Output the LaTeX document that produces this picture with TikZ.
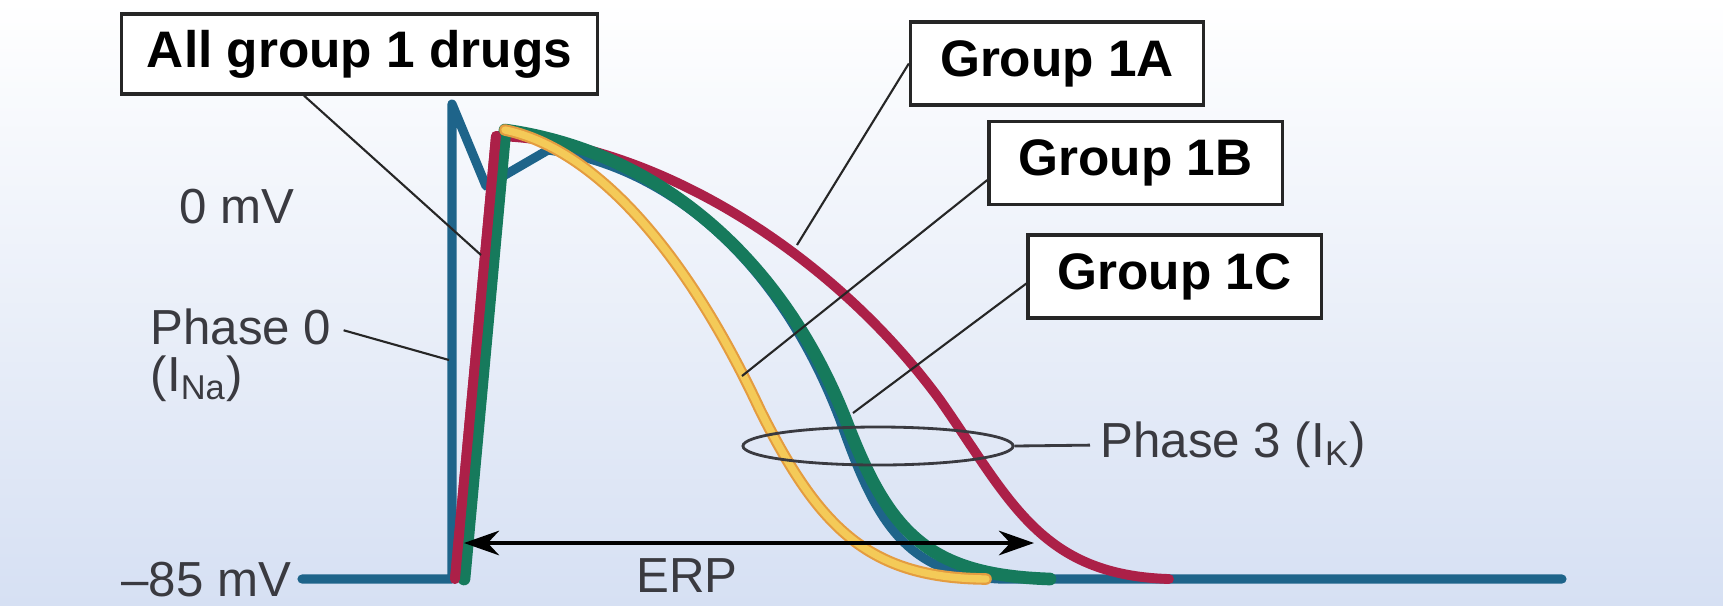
\documentclass[tikz,border=0pt]{standalone}
\usepackage{fontspec}
\setmainfont{Liberation Sans}
\usetikzlibrary{arrows.meta, shapes.geometric, positioning}
\definecolor{TraceBlue}{RGB}{30,100,138}
\definecolor{TraceRed}{RGB}{172,32,72}
\definecolor{TraceGreen}{RGB}{22,122,92}
\definecolor{TraceYellow}{RGB}{244,202,88}
\definecolor{TraceOrange}{RGB}{228,156,64}
\definecolor{LabelGray}{RGB}{58,58,64}
\definecolor{BgMid}{RGB}{238,241,250}
\definecolor{BgBottom}{RGB}{214,224,243}

\begin{document}
\begin{tikzpicture}[x=0.01cm, y=-0.01cm,
    drugbox/.style={draw=black!85, line width=0.9pt, fill=white, inner sep=0pt,
      minimum width=2.93cm, minimum height=0.83cm, font=\fontsize{14.6}{17}\selectfont\bfseries},
    axislabel/.style={text=LabelGray, inner sep=0pt, font=\fontsize{14}{17}\selectfont},
    trace/.style={line width=2.8pt, line join=round, line cap=round},
    leader/.style={draw=black!85, line width=0.6pt}]
  \useasboundingbox (0,0) rectangle (1723,605);
  \shade[top color=white, middle color=BgMid, bottom color=BgBottom] (0,0) rectangle (1723,605);

  % action potential traces
  \draw[trace, TraceBlue, line width=2.6pt] (302,579) -- (452,579) -- (452,104) -- (486,186) -- (548,150)
    .. controls (660,165) and (775,250) .. (840,420)
    .. controls (875,520) and (905,575) .. (1000,579) -- (1562,579);
  \draw[trace, TraceRed] (455,579) -- (496,136)
    .. controls (650,140) and (830,250) .. (940,400)
    .. controls (1010,500) and (1040,575) .. (1169,579);
  \draw[trace, TraceGreen, line width=3.6pt] (464,579) -- (505,130)
    .. controls (650,150) and (780,250) .. (847,423)
    .. controls (890,535) and (930,575) .. (1050,579);
  \draw[trace, TraceRed] (455,579) -- (496,136);
  \draw[trace, TraceOrange, line width=3.3pt] (505,130)
    .. controls (600,150) and (690,260) .. (760,410)
    .. controls (820,530) and (870,578) .. (986,579);
  \draw[trace, TraceYellow, line width=2.1pt] (505,130)
    .. controls (600,150) and (690,260) .. (760,410)
    .. controls (820,530) and (870,578) .. (986,579);

  % labels
  \node[drugbox, minimum width=4.75cm, minimum height=0.80cm] (allbox) at (359.5,54) {All group 1 drugs};
  \node[drugbox] (grpA) at (1057,63.5) {Group 1A};
  \node[drugbox] (grpB) at (1135.5,163) {Group 1B};
  \node[drugbox] (grpC) at (1174.5,276.5) {Group 1C};
  \node[axislabel] (zero) at (237,207) {0 mV};
  \node[axislabel, anchor=west] (phaseO) at (150,327) {Phase 0};
  \node[axislabel, anchor=west] (ina) at (150,379) {(I\textsubscript{Na})};
  \node[axislabel, anchor=east] (rest) at (292,580) {–85 mV};
  \node[axislabel] (erp) at (687,576) {ERP};
  \node[axislabel, anchor=west] (phaseT) at (1100,445) {Phase 3 (I\textsubscript{K})};
  \node[draw=LabelGray, line width=0.8pt, ellipse, inner sep=0pt,
    minimum width=2.70cm, minimum height=0.38cm] (ring) at (878,446) {};

  % pointers
  \coordinate (hitAll) at (481,255);
  \coordinate (hitA) at (797,245);
  \coordinate (hitB) at (742,376);
  \coordinate (hitC) at (853,413);
  \coordinate (hitO) at (449,360);
  \draw[leader] ([xshift=-0.555cm]allbox.south) -- (hitAll);
  \draw[leader] (grpA.west) -- (hitA);
  \draw[leader] ([yshift=-0.17cm]grpB.west) -- (hitB);
  \draw[leader] ([yshift=-0.07cm]grpC.west) -- (hitC);
  \draw[leader, shorten <=0.12cm] (phaseO.east) -- (hitO);
  \draw[LabelGray, line width=0.8pt, shorten >=0.1cm] (ring.east) -- (phaseT.west);

  \coordinate (erpL) at (464,543);
  \coordinate (erpR) at (1034,543);
  \draw[{Stealth[length=10pt,width=7pt]}-{Stealth[length=10pt,width=7pt]}, line width=1pt] (erpL) -- (erpR);
\end{tikzpicture}
\end{document}
